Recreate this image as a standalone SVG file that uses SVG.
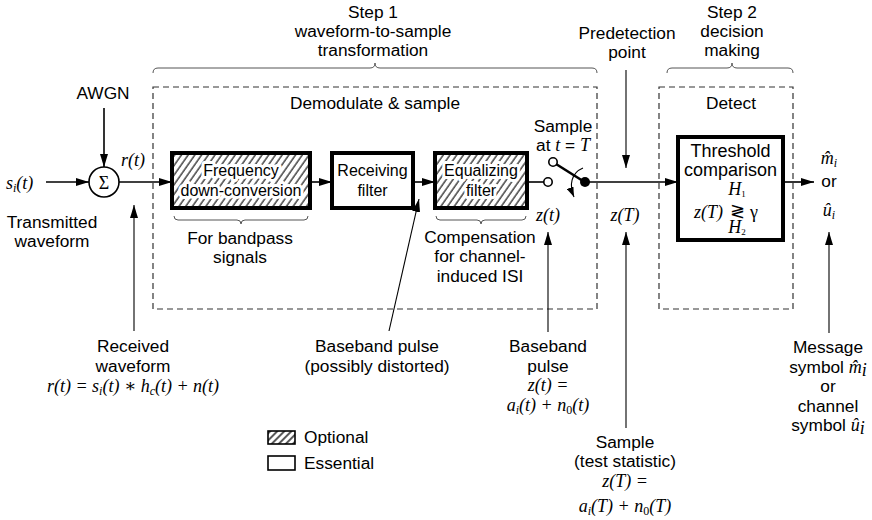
<svg xmlns="http://www.w3.org/2000/svg" width="872" height="520" viewBox="0 0 872 520">
<style>
text{font-family:"Liberation Sans","Noto Sans",Arial,sans-serif;font-size:17.3px;fill:#000;text-anchor:middle}
.b{font-size:16px}
.t{font-size:18px}
.m{font-family:"Liberation Serif","DejaVu Serif",serif;font-style:italic;font-size:18px}
.up{font-style:normal}
.l{text-anchor:start}
.halo{paint-order:stroke;stroke:#fff;stroke-width:6px;stroke-linejoin:round}
.box{fill:#fff;stroke:#000;stroke-width:4}
.hbox{fill:url(#hatch);stroke:#000;stroke-width:4}
.dash{fill:none;stroke:#333;stroke-width:1.2;stroke-dasharray:6 4}
.brace{fill:none;stroke:#555;stroke-width:1}
.w{stroke:#000;stroke-width:1.6;fill:none}
.p{stroke:#000;stroke-width:1.1;fill:none}
.arr{marker-end:url(#ah)}
</style>
<defs>
<pattern id="hatch" width="5.5" height="10" patternUnits="userSpaceOnUse" patternTransform="rotate(35)">
<rect width="5.5" height="10" fill="#fff"/>
<line x1="1" y1="0" x2="1" y2="10" stroke="#000" stroke-width="1.1"/>
</pattern>
<pattern id="hatch2" width="5" height="5" patternUnits="userSpaceOnUse" patternTransform="rotate(45)">
<rect width="5" height="5" fill="#fff"/>
<line x1="1" y1="0" x2="1" y2="5" stroke="#000" stroke-width="1.3"/>
</pattern>
<marker id="ah" viewBox="0 0 13 8" refX="13" refY="4" markerWidth="13" markerHeight="8" markerUnits="userSpaceOnUse" orient="auto">
<path d="M0,0 L13,4 L0,8 z" fill="#000"/>
</marker>
<marker id="ahs" viewBox="0 0 10 7" refX="10" refY="3.5" markerWidth="10" markerHeight="7" markerUnits="userSpaceOnUse" orient="auto">
<path d="M0,0 L10,3.5 L0,7 z" fill="#000"/>
</marker>
</defs>
<rect width="872" height="520" fill="#fff"/>

<g id="step1">
<text x="373" y="18">Step 1</text>
<text x="373" y="37">waveform-to-sample</text>
<text x="373" y="56">transformation</text>
<path class="brace" d="M153,73 Q153,68 158,68 L370,68 Q375,68 375,63 Q375,68 380,68 L592,68 Q597,68 597,73"/>
</g>
<g id="step2">
<text x="732" y="18">Step 2</text>
<text x="732" y="37">decision</text>
<text x="732" y="56">making</text>
<path class="brace" d="M667,73 Q667,68 672,68 L727,68 Q732,68 732,63 Q732,68 737,68 L788,68 Q793,68 793,73"/>
</g>
<g id="predetection">
<text x="627" y="39">Predetection</text>
<text x="627" y="58">point</text>
</g>

<g id="demod">
<rect class="dash" x="153" y="87" width="444" height="222"/>
<text x="375" y="109" font-size="17.8">Demodulate &amp; sample</text>
</g>
<g id="detect">
<rect class="dash" x="659" y="87" width="134" height="222"/>
<text x="731" y="109">Detect</text>
</g>

<g id="input">
<text class="m l" x="6" y="189">s<tspan font-size="12" dy="3">i</tspan><tspan dy="-3">(t)</tspan></text>
<text x="52" y="228">Transmitted</text>
<text x="52" y="247">waveform</text>
</g>
<g id="awgn"><text x="103" y="99">AWGN</text></g>
<g id="sum">
<circle cx="104" cy="182" r="15" fill="#fff" stroke="#000" stroke-width="1.6"/>
<text class="m up" x="104" y="189" font-size="20">Σ</text>
</g>
<g id="rt"><text class="m l" x="121" y="166">r(t)</text></g>

<g id="freq">
<rect class="hbox" x="172" y="153" width="138" height="55"/>
<text class="b halo" x="241" y="176">Frequency</text>
<text class="b halo" x="241" y="196">down-conversion</text>
<path class="brace" d="M174,216 Q174,220 178,220 L237,220 Q241,220 241,224 Q241,220 245,220 L304,220 Q308,220 308,216"/>
<text x="240" y="244">For bandpass</text>
<text x="240" y="263">signals</text>
</g>
<g id="recv">
<rect class="box" x="332" y="153" width="81" height="55"/>
<text class="b" x="372.5" y="176">Receiving</text>
<text class="b" x="372.5" y="196">filter</text>
</g>
<g id="eq">
<rect class="hbox" x="435" y="153" width="92" height="55"/>
<text class="b halo" x="481" y="176">Equalizing</text>
<text class="b halo" x="481" y="196">filter</text>
<path class="brace" d="M436,216 Q436,220 440,220 L477,220 Q481,220 481,224 Q481,220 485,220 L522,220 Q526,220 526,216"/>
<text x="480" y="243">Compensation</text>
<text x="480" y="262">for channel-</text>
<text x="480" y="282">induced ISI</text>
</g>
<g id="switch">
<text x="563" y="132">Sample</text>
<text x="563" y="151">at <tspan class="m">t</tspan> = <tspan class="m">T</tspan></text>
<line x1="556" y1="164" x2="583" y2="181" stroke="#000" stroke-width="2.6"/>
<circle cx="553" cy="162" r="4.2" fill="#fff" stroke="#000" stroke-width="1.6"/>
<circle cx="548" cy="182" r="4.2" fill="#fff" stroke="#000" stroke-width="1.6"/>
<circle cx="585" cy="182" r="5" fill="#000"/>
<path d="M583,168 C571,173 569,185 574,197" fill="none" stroke="#000" stroke-width="1.1" marker-end="url(#ahs)"/>
<text class="m" x="548" y="221">z(t)</text>
<text class="m" x="625" y="221">z(T)</text>
</g>
<g id="threshold">
<rect class="box" x="678" y="137" width="105" height="103"/>
<text class="t" x="730.5" y="157">Threshold</text>
<text class="t" x="730.5" y="176">comparison</text>
<text class="m" x="737" y="195" font-size="12">H<tspan font-size="9" dy="2" font-style="normal">1</tspan></text>
<text class="m l" x="694" y="218">z(T)</text>
<text class="m up" x="737" y="217" font-size="12" font-family="DejaVu Sans">≷</text>
<text class="m up l" x="750" y="218">γ</text>
<text class="m" x="737" y="233" font-size="12">H<tspan font-size="9" dy="2" font-style="normal">2</tspan></text>
</g>
<g id="output">
<text class="m" x="829" y="164">m̂<tspan font-size="12" dy="3">i</tspan></text>
<text x="829" y="187">or</text>
<text class="m" x="829" y="216">û<tspan font-size="12" dy="3">i</tspan></text>
</g>

<g id="received">
<text x="133" y="352">Received</text>
<text x="133" y="372">waveform</text>
<text class="m" x="133" y="392" font-size="17">r(t) = s<tspan font-size="12" dy="3">i</tspan><tspan dy="-3">(t) ∗ h</tspan><tspan font-size="12" dy="3">c</tspan><tspan dy="-3">(t)  + n(t)</tspan></text>
</g>
<g id="distorted">
<text x="377" y="352">Baseband pulse</text>
<text x="377" y="372">(possibly distorted)</text>
</g>
<g id="baseband">
<text x="548" y="352">Baseband</text>
<text x="548" y="372">pulse</text>
<text class="m" x="548" y="391" font-size="17">z(t) =</text>
<text class="m" x="548" y="411" font-size="17">a<tspan font-size="12" dy="3">i</tspan><tspan dy="-3">(t) + n</tspan><tspan font-size="12" dy="3" font-style="normal">0</tspan><tspan dy="-3">(t)</tspan></text>
</g>
<g id="sample">
<text x="625" y="448">Sample</text>
<text x="625" y="467">(test statistic)</text>
<text class="m" x="625" y="487" font-size="17">z(T) =</text>
<text class="m" x="625" y="512" font-size="17">a<tspan font-size="12" dy="3">i</tspan><tspan dy="-3">(T) + n</tspan><tspan font-size="12" dy="3" font-style="normal">0</tspan><tspan dy="-3">(T)</tspan></text>
</g>
<g id="message">
<text x="828" y="353">Message</text>
<text x="828" y="373">symbol <tspan class="m">m̂</tspan><tspan class="m" font-size="12" dy="3">i</tspan></text>
<text x="828" y="392">or</text>
<text x="828" y="412">channel</text>
<text x="828" y="431">symbol <tspan class="m">û</tspan><tspan class="m" font-size="12" dy="3">i</tspan></text>
</g>
<g id="legend">
<rect x="268" y="431" width="27" height="13" fill="url(#hatch2)" stroke="#000" stroke-width="1.6"/>
<text class="l" x="304" y="443" font-size="18">Optional</text>
<rect x="268" y="456" width="27" height="14" fill="#fff" stroke="#000" stroke-width="1.6"/>
<text class="l" x="304" y="469" font-size="18">Essential</text>
</g>

<g id="connectors">
<line class="w arr" x1="46" y1="182" x2="89" y2="182"/>
<line class="w arr" x1="104" y1="108" x2="104" y2="167"/>
<line class="w arr" x1="119" y1="182" x2="172" y2="182"/>
<line class="w arr" x1="310" y1="182" x2="332" y2="182"/>
<line class="w arr" x1="413" y1="182" x2="435" y2="182"/>
<line class="w" x1="527" y1="182" x2="544" y2="182"/>
<line class="w arr" x1="585" y1="182" x2="678" y2="182"/>
<line class="w arr" x1="783" y1="182" x2="814" y2="182"/>
<line class="p arr" x1="134" y1="331" x2="134" y2="205"/>
<line class="p arr" x1="389" y1="331" x2="419" y2="199"/>
<line class="p arr" x1="548" y1="332" x2="548" y2="232"/>
<line class="p arr" x1="626" y1="428" x2="626" y2="232"/>
<line class="p arr" x1="626" y1="70" x2="626" y2="168"/>
<line class="p arr" x1="829" y1="333" x2="829" y2="232"/>
</g>
</svg>
